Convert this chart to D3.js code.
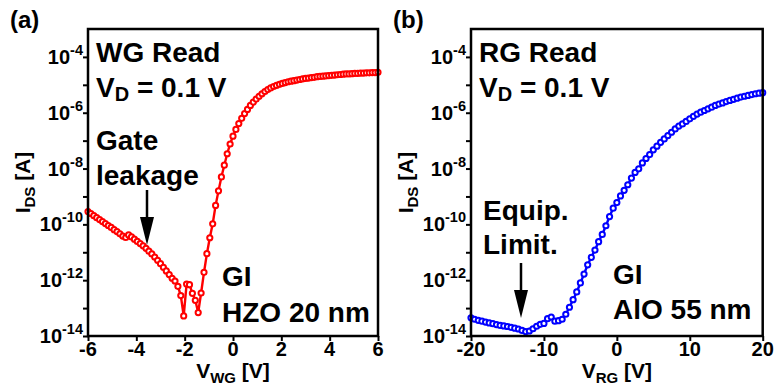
<!DOCTYPE html>
<html><head><meta charset="utf-8">
<script src="https://cdn.jsdelivr.net/npm/d3@7"></script>
<style>
body{margin:0;background:#fff;}
text{font-family:"Liberation Sans",Arial,sans-serif;font-weight:bold;fill:#000;}
</style></head>
<body><svg id="c" width="775" height="390"></svg>
<script>
// ---------- data ----------
// Panel (a): WG read, V_WG from -6 to 6 V, step 0.12 V; values are log10(I_DS [A])
const vwgStart = -6, vwgStep = 0.12;
const logIdsA = [
 -9.54,-9.61,-9.69,-9.76,-9.83,-9.90,-9.97,-10.04,-10.11,-10.19,
 -10.26,-10.34,-10.42,-10.47,-10.38,-10.45,-10.53,-10.61,-10.69,-10.77,
 -10.86,-10.96,-11.06,-11.17,-11.29,-11.41,-11.54,-11.67,-11.80,-11.93,
 -12.03,-12.22,-12.55,-13.28,-12.14,-12.16,-12.47,-12.72,-13.16,-12.46,
 -11.72,-11.05,-10.48,-9.98,-9.32,-8.80,-8.30,-7.88,-7.47,-7.12,
 -6.84,-6.60,-6.39,-6.20,-6.03,-5.88,-5.74,-5.62,-5.51,-5.41,
 -5.32,-5.24,-5.17,-5.11,-5.06,-5.02,-4.98,-4.95,-4.92,-4.89,
 -4.87,-4.85,-4.83,-4.81,-4.79,-4.77,-4.76,-4.74,-4.73,-4.71,
 -4.70,-4.69,-4.68,-4.67,-4.66,-4.65,-4.64,-4.63,-4.62,-4.61,
 -4.61,-4.60,-4.59,-4.59,-4.58,-4.58,-4.57,-4.57,-4.56,-4.56,
 -4.55
];
// Panel (b): RG read, V_RG from -20 to 20 V, step 0.5 V
const vrgStart = -20, vrgStep = 0.5;
const logIdsB = [
 -13.35,-13.40,-13.44,-13.47,-13.50,-13.53,-13.56,-13.59,-13.62,-13.64,
 -13.66,-13.69,-13.72,-13.75,-13.80,-13.84,-13.82,-13.74,-13.65,-13.58,
 -13.55,-13.38,-13.32,-13.47,-13.45,-13.40,-13.22,-12.97,-12.70,-12.42,
 -12.10,-11.78,-11.45,-11.18,-10.92,-10.62,-10.36,-10.05,-9.72,-9.42,
 -9.22,-8.98,-8.78,-8.58,-8.34,-8.14,-8.01,-7.80,-7.64,-7.50,
 -7.33,-7.20,-7.06,-6.94,-6.82,-6.70,-6.58,-6.48,-6.40,-6.31,
 -6.22,-6.13,-6.05,-5.98,-5.92,-5.86,-5.80,-5.74,-5.69,-5.65,
 -5.60,-5.56,-5.52,-5.48,-5.44,-5.41,-5.38,-5.35,-5.32,-5.30,
 -5.28
];
const xTicksA = [-6,-4,-2,0,2,4,6];
const xTicksB = [-20,-10,0,10,20];
const yMajorExp = [-14,-12,-10,-8,-6,-4];
const yAllExp = [-14,-13,-12,-11,-10,-9,-8,-7,-6,-5,-4];

// ---------- drawing ----------
const svg = d3.select("#c");
const plotTop = 29, plotBottom = 336;

function panel(opt){
  const g = svg.append("g");
  const x = d3.scaleLinear().domain(opt.xDomain).range([opt.left, opt.right]);
  const y = d3.scaleLog().domain([1e-14, 1e-3]).range([plotBottom, plotTop]);
  const pts = opt.logI.map((v,i)=>({v: opt.start + i*opt.step, i: Math.pow(10, v)}));

  const ya = d3.axisLeft(y).tickValues(yAllExp.map(e=>Math.pow(10,e))).tickFormat("").tickSize(5).tickSizeOuter(0);
  const yg = g.append("g").attr("transform",`translate(${opt.left},0)`).call(ya);
  yg.select(".domain").remove();
  yg.selectAll("line").attr("stroke","#000").attr("stroke-width",2);
  yMajorExp.forEach(e=>{
    const t = g.append("text").attr("x",opt.left-5).attr("y",y(Math.pow(10,e))+7)
      .attr("text-anchor","end").style("font-size","20px");
    t.append("tspan").text("10");
    t.append("tspan").attr("dy",-9).style("font-size","14.5px").text(String(e));
  });
  const xa = d3.axisBottom(x).tickValues(opt.xTicks).tickFormat("").tickSize(5).tickSizeOuter(0);
  const xg = g.append("g").attr("transform",`translate(0,${plotBottom})`).call(xa);
  xg.select(".domain").remove();
  xg.selectAll("line").attr("stroke","#000").attr("stroke-width",2);
  opt.xTicks.forEach(t=>{
    g.append("text").attr("x",x(t)).attr("y",plotBottom+20).attr("text-anchor","middle")
      .style("font-size","20px").text(t);
  });

  const line = d3.line().x(d=>x(d.v)).y(d=>y(d.i));
  g.append("path").datum(pts).attr("d",line).attr("fill","none")
    .attr("stroke",opt.color).attr("stroke-width",2.4);
  g.selectAll("circle.m").data(pts).join("circle").attr("class","m")
    .attr("cx",d=>x(d.v)).attr("cy",d=>y(d.i)).attr("r",2.6)
    .attr("fill","#fff").attr("stroke",opt.color).attr("stroke-width",2);

  g.append("rect").attr("x",opt.left).attr("y",plotTop).attr("width",opt.right-opt.left)
    .attr("height",plotBottom-plotTop).attr("fill","none").attr("stroke","#000").attr("stroke-width",2.5);

  const xl = g.append("text").attr("x",(opt.left+opt.right)/2).attr("y",378)
    .attr("text-anchor","middle").style("font-size","21px");
  xl.append("tspan").text("V");
  xl.append("tspan").attr("dy",5).style("font-size","15px").text(opt.xSub);
  xl.append("tspan").attr("dy",-5).text(" [V]");

  const yl = g.append("text").attr("transform",`translate(${opt.left-58},${(plotTop+plotBottom)/2}) rotate(-90)`)
    .attr("text-anchor","middle").style("font-size","21px");
  yl.append("tspan").text("I");
  yl.append("tspan").attr("dy",5).style("font-size","15px").text("DS");
  yl.append("tspan").attr("dy",-5).text(" [A]");

  g.append("text").attr("x",opt.left-78).attr("y",28).style("font-size","24px").text(opt.label);

  opt.notes.forEach(n=>{
    const t = g.append("text").attr("x",n[0]).attr("y",n[1]).style("font-size","28px");
    if(n[2]==="VD"){
      t.append("tspan").text("V");
      t.append("tspan").attr("dy",4).style("font-size","20px").text("D");
      t.append("tspan").attr("dy",-4).text(" = 0.1 V");
    } else t.text(n[2]);
  });
  const a = opt.arrow;
  g.append("line").attr("x1",a[0]).attr("x2",a[0]).attr("y1",a[1]).attr("y2",a[2]-20)
    .attr("stroke","#000").attr("stroke-width",2.5);
  g.append("path").attr("d",`M${a[0]-7},${a[2]-28} L${a[0]+7},${a[2]-28} L${a[0]},${a[2]} Z`).attr("fill","#000");
}

panel({left:88,right:378,xDomain:[-6,6],xTicks:xTicksA,start:vwgStart,step:vwgStep,logI:logIdsA,
  color:"#ff0000",xSub:"WG",label:"(a)",
  notes:[[96,62,"WG Read"],[96,97,"VD"],[96,150,"Gate"],[96,185,"leakage"],[222,286,"GI"],[222,322,"HZO 20 nm"]],
  arrow:[147,190,245]});
panel({left:471,right:762.7,xDomain:[-20,20],xTicks:xTicksB,start:vrgStart,step:vrgStep,logI:logIdsB,
  color:"#0000ff",xSub:"RG",label:"(b)",
  notes:[[479,62,"RG Read"],[479,97,"VD"],[483,220,"Equip."],[483,254,"Limit."],[613,284,"GI"],[613,319,"AlO 55 nm"]],
  arrow:[521,263,318]});
</script></body></html>
